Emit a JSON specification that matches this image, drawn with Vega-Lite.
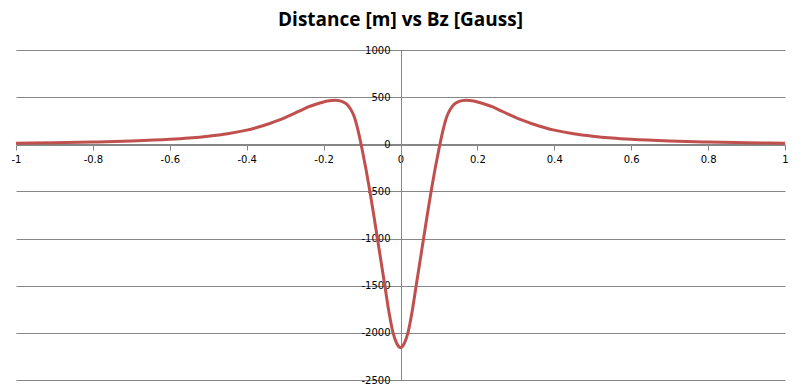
{
  "$schema": "https://vega.github.io/schema/vega-lite/v6.json",
  "autosize": "none",
  "width": 769,
  "height": 330,
  "padding": {"left": 16, "top": 50, "right": 15, "bottom": 11},
  "background": "white",
  "title": {
    "text": "Distance [m] vs Bz [Gauss]",
    "font": "Open Sans",
    "fontSize": 19,
    "fontWeight": "bold",
    "color": "#000000",
    "anchor": "middle",
    "offset": 15
  },
  "config": {
    "locale": {"number": {"decimal": ".", "thousands": ",", "grouping": [3], "currency": ["$", ""], "minus": "-"}},
    "view": {"stroke": null},
    "axis": {
      "labelFont": "DejaVu Sans",
      "labelFontSize": 10,
      "labelColor": "#000000",
      "domainColor": "#868686",
      "tickColor": "#868686",
      "gridColor": "#868686",
      "domainWidth": 1,
      "gridWidth": 1,
      "tickWidth": 1
    }
  },
  "data": {
    "values": [
      {"d": -1.0, "bz": 12}, {"d": -0.9, "bz": 17}, {"d": -0.8, "bz": 24}, {"d": -0.7, "bz": 35},
      {"d": -0.6, "bz": 53}, {"d": -0.55, "bz": 67}, {"d": -0.5, "bz": 86}, {"d": -0.45, "bz": 112},
      {"d": -0.4, "bz": 150}, {"d": -0.38, "bz": 170}, {"d": -0.36, "bz": 194}, {"d": -0.34, "bz": 220},
      {"d": -0.32, "bz": 250}, {"d": -0.3, "bz": 283}, {"d": -0.28, "bz": 320}, {"d": -0.26, "bz": 358},
      {"d": -0.24, "bz": 396}, {"d": -0.22, "bz": 425}, {"d": -0.2, "bz": 449}, {"d": -0.19, "bz": 459},
      {"d": -0.18, "bz": 465}, {"d": -0.17, "bz": 467}, {"d": -0.16, "bz": 463}, {"d": -0.15, "bz": 450},
      {"d": -0.14, "bz": 425}, {"d": -0.13, "bz": 375}, {"d": -0.12, "bz": 290}, {"d": -0.11, "bz": 140},
      {"d": -0.1, "bz": -50}, {"d": -0.09, "bz": -260}, {"d": -0.08, "bz": -490}, {"d": -0.07, "bz": -740},
      {"d": -0.06, "bz": -1000}, {"d": -0.05, "bz": -1260}, {"d": -0.04, "bz": -1520}, {"d": -0.03, "bz": -1780},
      {"d": -0.02, "bz": -1990}, {"d": -0.01, "bz": -2110},
      {"d": 0.0, "bz": -2156},
      {"d": 0.01, "bz": -2110}, {"d": 0.02, "bz": -1990}, {"d": 0.03, "bz": -1780}, {"d": 0.04, "bz": -1520},
      {"d": 0.05, "bz": -1260}, {"d": 0.06, "bz": -1000}, {"d": 0.07, "bz": -740}, {"d": 0.08, "bz": -490},
      {"d": 0.09, "bz": -260}, {"d": 0.1, "bz": -50}, {"d": 0.11, "bz": 140}, {"d": 0.12, "bz": 290},
      {"d": 0.13, "bz": 375}, {"d": 0.14, "bz": 425}, {"d": 0.15, "bz": 450}, {"d": 0.16, "bz": 463},
      {"d": 0.17, "bz": 467}, {"d": 0.18, "bz": 465}, {"d": 0.19, "bz": 459}, {"d": 0.2, "bz": 449},
      {"d": 0.22, "bz": 425}, {"d": 0.24, "bz": 396}, {"d": 0.26, "bz": 358}, {"d": 0.28, "bz": 320},
      {"d": 0.3, "bz": 283}, {"d": 0.32, "bz": 250}, {"d": 0.34, "bz": 220}, {"d": 0.36, "bz": 194},
      {"d": 0.38, "bz": 170}, {"d": 0.4, "bz": 150}, {"d": 0.45, "bz": 112}, {"d": 0.5, "bz": 86},
      {"d": 0.55, "bz": 67}, {"d": 0.6, "bz": 53}, {"d": 0.7, "bz": 35}, {"d": 0.8, "bz": 24},
      {"d": 0.9, "bz": 17}, {"d": 1.0, "bz": 12}
    ]
  },
  "mark": {"type": "line", "color": "#C0504D", "strokeWidth": 3, "interpolate": "monotone", "clip": false},
  "encoding": {
    "x": {
      "field": "d",
      "type": "quantitative",
      "scale": {"domain": [-1, 1], "nice": false, "zero": false},
      "axis": {
        "title": null,
        "grid": false,
        "offset": -235,
        "format": "~g",
        "values": [-1, -0.8, -0.6, -0.4, -0.2, 0, 0.2, 0.4, 0.6, 0.8, 1],
        "tickSize": 5,
        "labelPadding": 4,
        "labelFlush": false,
        "labelOverlap": false
      }
    },
    "y": {
      "field": "bz",
      "type": "quantitative",
      "scale": {"domain": [-2500, 1000], "nice": false, "zero": false},
      "axis": {
        "title": null,
        "grid": true,
        "offset": -385,
        "format": "d",
        "values": [-2500, -2000, -1500, -1000, -500, 0, 500, 1000],
        "tickSize": 5,
        "labelPadding": 6,
        "labelFlush": false,
        "labelOverlap": false
      }
    }
  }
}
